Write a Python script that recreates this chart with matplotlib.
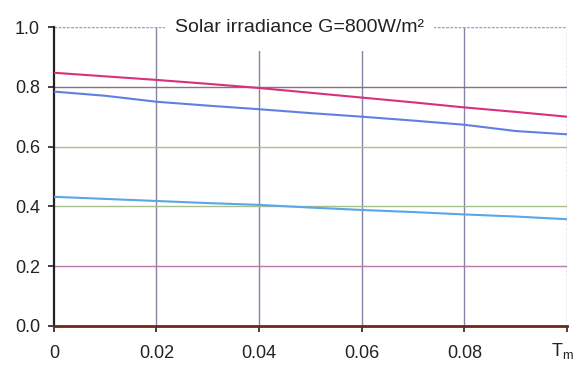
import matplotlib
matplotlib.use("Agg")
import matplotlib.pyplot as plt
import matplotlib.transforms as mtransforms
from matplotlib.patches import Rectangle

plt.rcParams['font.family'] = ['Liberation Sans', 'DejaVu Sans']
plt.rcParams['mathtext.fontset'] = 'custom'
plt.rcParams['mathtext.rm'] = 'Liberation Sans'
plt.rcParams['mathtext.it'] = 'Liberation Sans'

# Data
t_m = [0, 0.01, 0.02, 0.03, 0.04, 0.05, 0.06, 0.07, 0.08, 0.09, 0.1]
eff_pink = [0.847, 0.835, 0.823, 0.810, 0.796, 0.780, 0.764, 0.748, 0.731, 0.716, 0.700]
eff_blue = [0.784, 0.770, 0.750, 0.737, 0.725, 0.712, 0.700, 0.687, 0.673, 0.652, 0.641]
eff_light = [0.432, 0.425, 0.418, 0.411, 0.405, 0.396, 0.388, 0.381, 0.373, 0.366, 0.357]

x_ticks = [0, 0.02, 0.04, 0.06, 0.08, 0.1]
x_labels = ["0", "0.02", "0.04", "0.06", "0.08", r"T$_\mathrm{m}$"]
y_ticks = [0.0, 0.2, 0.4, 0.6, 0.8, 1.0]
y_labels = ["0.0", "0.2", "0.4", "0.6", "0.8", "1.0"]
title = "Solar irradiance G=800W/m²"

fig = plt.figure(figsize=(5.73, 3.65), dpi=100)
ax = fig.add_axes([0.094, 0.107, 0.8955, 0.819])

# Grid lines (scanned, slightly coloured)
for x in x_ticks[1:-1]:
    ax.axvline(x, color="#8484a4", lw=1.0, zorder=1)
hgrid_colors = {0.2: "#b47aa8", 0.4: "#a8c090", 0.6: "#b4bc80", 0.8: "#8a7080"}
for y, c in hgrid_colors.items():
    ax.axhline(y, color=c, lw=1.0, zorder=1)
ax.axhline(1.0, color="#9a9ae0", lw=1.0, ls=(0, (2, 1)), zorder=1)
ax.axvline(0.1, color="#9a9ae0", lw=1.0, ls=(0, (2, 1)), zorder=1)

# Curves
ax.plot(t_m, eff_pink, color="#d8307a", lw=1.5, zorder=3)
ax.plot(t_m, eff_blue, color="#5f80e0", lw=1.5, zorder=3)
ax.plot(t_m, eff_light, color="#5aa6e8", lw=1.5, zorder=3)

ax.set_xlim(0, 0.1)
ax.set_ylim(0, 1.0)
ax.set_xticks(x_ticks)
ax.set_xticklabels(x_labels)
ax.set_yticks(y_ticks)
ax.set_yticklabels(y_labels)
ax.tick_params(axis="both", labelsize=13, colors="#222222", length=4, width=1.2)
ax.tick_params(axis="x", pad=10)
ax.tick_params(axis="y", pad=6)

# last x label sits in the bottom-right corner, keep it inside the figure
last = ax.get_xticklabels()[-1]
last.set_horizontalalignment("right")
last.set_transform(last.get_transform() +
                   mtransforms.ScaledTranslation(5 / 72, 3 / 72, fig.dpi_scale_trans))

for s in ["top", "right"]:
    ax.spines[s].set_visible(False)
ax.spines["left"].set_color("#222222")
ax.spines["left"].set_linewidth(1.6)
ax.spines["bottom"].set_color("#6a2a1a")
ax.spines["bottom"].set_linewidth(2.0)

# white box behind the title, hiding the grid under it
blend = mtransforms.blended_transform_factory(ax.transData, ax.transAxes)
ax.add_patch(Rectangle((0.0216, 0.92), 0.0524, 0.2, transform=blend,
                       facecolor="white", edgecolor="none", zorder=4, clip_on=False))
ax.text(0.478, 1.0, title, transform=ax.transAxes, ha="center", va="center",
        fontsize=14, color="#222222", zorder=5)

fig.savefig("out.png", dpi=100)
